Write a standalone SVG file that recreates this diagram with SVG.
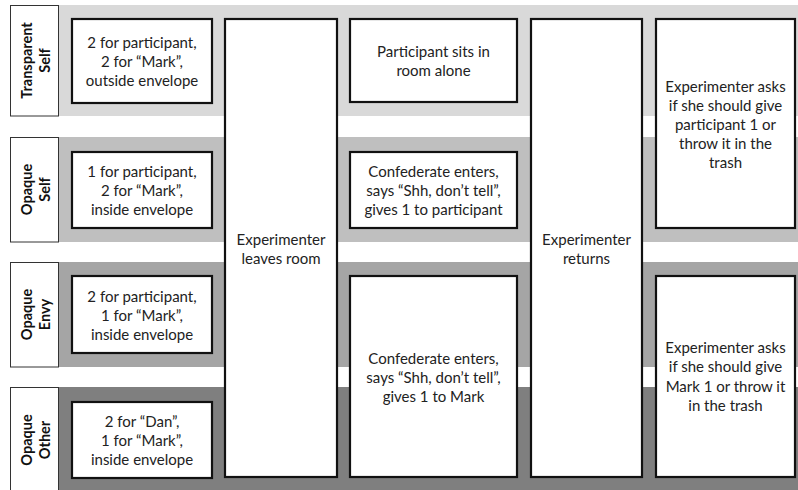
<svg xmlns="http://www.w3.org/2000/svg" width="798" height="490" viewBox="0 0 798 490">
<style>
.bg{fill:#ffffff}
.b1{fill:#d9d9d9}.b2{fill:#bfbfbf}.b3{fill:#a5a5a5}.b4{fill:#7f7f7f}
.lbl{fill:#ffffff;stroke:#333333;stroke-width:1}
.box{fill:#ffffff;stroke:#111111;stroke-width:2.2}
text{font-family:Lato,"Open Sans","Liberation Sans",sans-serif;font-size:15px;fill:#222222;text-anchor:middle}
.lt{font-weight:bold;font-size:14.5px;fill:#111111}
</style>
<rect class="bg" x="0" y="0" width="798" height="490"/>
<g id="bands">
<rect class="b1" x="10" y="5" width="788" height="111"/>
<rect class="b2" x="10" y="137" width="788" height="105"/>
<rect class="b3" x="10" y="262" width="788" height="105"/>
<rect class="b4" x="10" y="387" width="788" height="103"/>
</g>
<g id="label-transparent-self">
<rect class="lbl" x="10.5" y="5.5" width="48" height="110.5"/>
<text class="lt" transform="translate(34,60.5) rotate(-90)"><tspan x="0" y="-2">Transparent</tspan><tspan x="0" y="16">Self</tspan></text>
</g>
<g id="label-opaque-self">
<rect class="lbl" x="10.5" y="137.5" width="48" height="104.5"/>
<text class="lt" transform="translate(34,189.5) rotate(-90)"><tspan x="0" y="-2">Opaque</tspan><tspan x="0" y="16">Self</tspan></text>
</g>
<g id="label-opaque-envy">
<rect class="lbl" x="10.5" y="262.5" width="48" height="104.5"/>
<text class="lt" transform="translate(34,314.5) rotate(-90)"><tspan x="0" y="-2">Opaque</tspan><tspan x="0" y="16">Envy</tspan></text>
</g>
<g id="label-opaque-other">
<rect class="lbl" x="10.5" y="387.5" width="48" height="106"/>
<text class="lt" transform="translate(34,440) rotate(-90)"><tspan x="0" y="-2">Opaque</tspan><tspan x="0" y="16">Other</tspan></text>
</g>
<g id="connectors"></g>
<g id="c1-transparent">
<rect class="box" x="72" y="19" width="140" height="84"/>
<text><tspan x="142" y="48">2 for participant,</tspan><tspan x="142" y="67">2 for “Mark”,</tspan><tspan x="142" y="86">outside envelope</tspan></text>
</g>
<g id="c1-opaque-self">
<rect class="box" x="72" y="152" width="140" height="76"/>
<text><tspan x="142" y="177">1 for participant,</tspan><tspan x="142" y="196">2 for “Mark”,</tspan><tspan x="142" y="215">inside envelope</tspan></text>
</g>
<g id="c1-opaque-envy">
<rect class="box" x="72" y="276" width="140" height="77"/>
<text><tspan x="142" y="302">2 for participant,</tspan><tspan x="142" y="321">1 for “Mark”,</tspan><tspan x="142" y="340">inside envelope</tspan></text>
</g>
<g id="c1-opaque-other">
<rect class="box" x="72" y="402" width="140" height="76"/>
<text><tspan x="142" y="427">2 for “Dan”,</tspan><tspan x="142" y="446">1 for “Mark”,</tspan><tspan x="142" y="465">inside envelope</tspan></text>
</g>
<g id="experimenter-leaves">
<rect class="box" x="225" y="19" width="112" height="458"/>
<text><tspan x="281" y="245">Experimenter</tspan><tspan x="281" y="264">leaves room</tspan></text>
</g>
<g id="sits-alone">
<rect class="box" x="350" y="19" width="167" height="83"/>
<text><tspan x="433.5" y="57">Participant sits in</tspan><tspan x="433.5" y="76">room alone</tspan></text>
</g>
<g id="confederate-participant">
<rect class="box" x="350" y="152" width="167" height="76"/>
<text><tspan x="433.5" y="177">Confederate enters,</tspan><tspan x="433.5" y="196">says “Shh, don’t tell”,</tspan><tspan x="433.5" y="215">gives 1 to participant</tspan></text>
</g>
<g id="confederate-mark">
<rect class="box" x="350" y="276" width="167" height="201"/>
<text><tspan x="433.5" y="364">Confederate enters,</tspan><tspan x="433.5" y="383">says “Shh, don’t tell”,</tspan><tspan x="433.5" y="402">gives 1 to Mark</tspan></text>
</g>
<g id="experimenter-returns">
<rect class="box" x="531" y="19" width="111" height="458"/>
<text><tspan x="586.5" y="245">Experimenter</tspan><tspan x="586.5" y="264">returns</tspan></text>
</g>
<g id="asks-participant">
<rect class="box" x="656" y="19" width="139" height="209"/>
<text><tspan x="725.5" y="92">Experimenter asks</tspan><tspan x="725.5" y="111">if she should give</tspan><tspan x="725.5" y="130">participant 1 or</tspan><tspan x="725.5" y="149">throw it in the</tspan><tspan x="725.5" y="168">trash</tspan></text>
</g>
<g id="asks-mark">
<rect class="box" x="656" y="276" width="139" height="201"/>
<text><tspan x="725.5" y="353">Experimenter asks</tspan><tspan x="725.5" y="372">if she should give</tspan><tspan x="725.5" y="392">Mark 1 or throw it</tspan><tspan x="725.5" y="411">in the trash</tspan></text>
</g>
</svg>
